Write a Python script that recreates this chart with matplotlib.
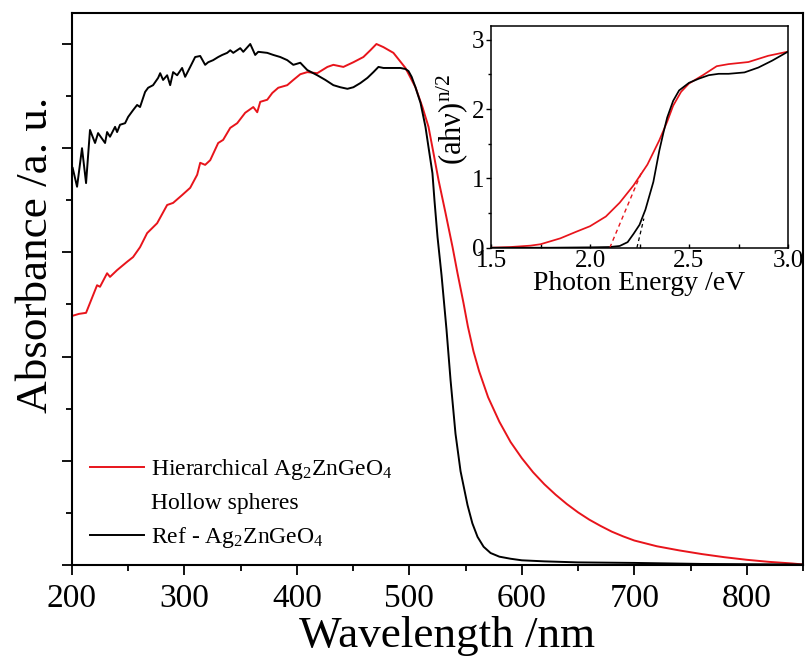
import matplotlib
matplotlib.use("Agg")
import matplotlib.pyplot as plt
from matplotlib.lines import Line2D
from matplotlib.ticker import MultipleLocator

plt.rcParams['font.family'] = ['Liberation Serif', 'DejaVu Serif']
plt.rcParams['mathtext.fontset'] = 'custom'
plt.rcParams['mathtext.rm'] = 'Liberation Serif'
plt.rcParams['mathtext.it'] = 'Liberation Serif:italic'
plt.rcParams['mathtext.bf'] = 'Liberation Serif:bold'

RED = '#e8141b'

# ---- main spectra ----
hier_wl = [200.0, 206.2, 212.5, 222.3, 224.9, 231.2, 233.8, 240.1, 249.0, 254.3, 260.5, 266.8,
           275.7, 284.6, 289.9, 297.9, 305.1, 311.3, 314.0, 318.4, 322.9, 330.0, 334.4, 340.7,
           346.9, 354.0, 361.2, 364.7, 367.4, 373.6, 378.1, 383.4, 391.4, 396.8, 403.0, 409.2,
           418.1, 427.1, 432.4, 441.3, 450.2, 459.1, 465.3, 470.7, 476.9, 485.8, 496.5, 505.4,
           511.6, 517.0, 521.4, 525.9, 532.1, 538.4, 542.8, 548.1, 552.0, 557.0, 562.0, 570.0,
           580.0, 590.0, 600.0, 610.0, 620.0, 630.0, 640.0, 650.0, 660.0, 670.0, 680.0, 690.0,
           700.0, 720.0, 740.0, 760.0, 780.0, 800.0, 820.0, 840.0, 850.0]
hier_abs = [0.478, 0.482, 0.484, 0.537, 0.534, 0.560, 0.553, 0.566, 0.582, 0.591, 0.610, 0.637,
            0.656, 0.691, 0.695, 0.710, 0.724, 0.749, 0.772, 0.768, 0.777, 0.810, 0.816, 0.839,
            0.848, 0.868, 0.879, 0.869, 0.889, 0.893, 0.906, 0.916, 0.921, 0.931, 0.942, 0.946,
            0.944, 0.956, 0.960, 0.956, 0.965, 0.975, 0.988, 1.000, 0.994, 0.983, 0.954, 0.917,
            0.879, 0.841, 0.791, 0.739, 0.676, 0.610, 0.560, 0.503, 0.458, 0.410, 0.372, 0.322,
            0.275, 0.236, 0.205, 0.178, 0.155, 0.135, 0.117, 0.101, 0.087, 0.075, 0.064, 0.055,
            0.047, 0.036, 0.028, 0.021, 0.015, 0.010, 0.006, 0.003, 0.001]

ref_wl = [200.6, 204.5, 208.9, 212.5, 216.0, 220.5, 223.2, 229.4, 231.2, 233.8, 238.3, 240.1,
          242.7, 247.2, 249.9, 254.3, 257.9, 260.5, 265.0, 267.7, 272.1, 276.6, 278.4, 281.0,
          284.6, 287.3, 289.9, 293.5, 297.9, 300.6, 305.1, 309.5, 314.0, 318.4, 321.1, 325.5,
          330.0, 333.6, 338.0, 340.7, 343.4, 349.6, 352.3, 358.5, 362.9, 365.6, 373.6, 379.0,
          385.2, 391.4, 396.8, 403.0, 409.2, 418.1, 425.3, 432.4, 438.6, 444.9, 450.2, 456.4,
          462.7, 468.0, 472.5, 476.9, 483.1, 492.0, 496.5, 499.2, 502.0, 505.4, 509.9, 514.3,
          517.0, 520.5, 522.3, 525.0, 528.6, 533.0, 536.6, 541.0, 545.5, 551.7, 556.0, 560.6,
          566.0, 572.2, 580.0, 590.0, 600.0, 620.0, 650.0, 700.0, 760.0, 850.0]
ref_abs = [0.762, 0.726, 0.800, 0.733, 0.835, 0.810, 0.829, 0.810, 0.831, 0.822, 0.841, 0.831,
           0.845, 0.848, 0.860, 0.873, 0.883, 0.879, 0.908, 0.916, 0.921, 0.935, 0.944, 0.931,
           0.940, 0.921, 0.946, 0.940, 0.954, 0.937, 0.956, 0.975, 0.977, 0.960, 0.965, 0.969,
           0.975, 0.979, 0.983, 0.988, 0.983, 0.992, 0.985, 1.000, 0.979, 0.985, 0.983, 0.979,
           0.975, 0.969, 0.960, 0.964, 0.950, 0.940, 0.931, 0.921, 0.917, 0.914, 0.917, 0.925,
           0.935, 0.946, 0.956, 0.954, 0.954, 0.954, 0.952, 0.948, 0.937, 0.917, 0.887, 0.841,
           0.802, 0.752, 0.700, 0.630, 0.556, 0.452, 0.355, 0.252, 0.180, 0.115, 0.080, 0.054,
           0.035, 0.023, 0.016, 0.012, 0.009, 0.007, 0.005, 0.004, 0.002, 0.001]

# ---- inset Tauc plot ----
hier_E = [1.50, 1.60, 1.70, 1.75, 1.85, 1.93, 2.00, 2.08, 2.15, 2.22, 2.29, 2.35, 2.39, 2.42,
          2.46, 2.50, 2.57, 2.64, 2.70, 2.80, 2.90, 3.00]
hier_tauc = [0.0, 0.01, 0.03, 0.05, 0.135, 0.23, 0.31, 0.45, 0.65, 0.90, 1.20, 1.55, 1.82, 2.05,
             2.25, 2.37, 2.49, 2.62, 2.65, 2.68, 2.77, 2.83]
ref_E = [1.50, 1.80, 2.00, 2.10, 2.15, 2.19, 2.22, 2.25, 2.28, 2.30, 2.32, 2.35, 2.37, 2.39,
         2.42, 2.45, 2.50, 2.55, 2.60, 2.65, 2.70, 2.78, 2.85, 2.92, 3.00]
ref_tauc = [0.0, 0.0, 0.005, 0.01, 0.025, 0.08, 0.20, 0.33, 0.55, 0.75, 0.95, 1.40, 1.65, 1.88,
            2.12, 2.27, 2.38, 2.44, 2.49, 2.51, 2.51, 2.53, 2.60, 2.70, 2.83]
hier_fit_E = [2.10, 2.265]
hier_fit_v = [0.0, 1.12]
ref_fit_E = [2.237, 2.272]
ref_fit_v = [0.0, 0.42]

x_ticks = [200, 300, 400, 500, 600, 700, 800]
inset_x_ticks = [1.5, 2.0, 2.5, 3.0]
inset_y_ticks = [0, 1, 2, 3]

fig = plt.figure(figsize=(8.06, 6.59), dpi=100)
ax = fig.add_axes([72 / 806, 1 - 565 / 659, 731 / 806, 552 / 659])

ax.plot(hier_wl, hier_abs, color=RED, lw=1.4)
ax.plot(ref_wl, ref_abs, color='black', lw=1.4)
ax.set_xlim(200, 850)
ax.set_ylim(0, 1.0595)
ax.set_xticks(x_ticks)
ax.xaxis.set_minor_locator(MultipleLocator(50))
ax.yaxis.set_major_locator(MultipleLocator(0.2))
ax.yaxis.set_minor_locator(MultipleLocator(0.1))
ax.set_yticklabels([])
ax.tick_params(which='major', direction='out', length=7.5, width=1.3, labelsize=24, pad=6,
               top=False, right=False)
ax.tick_params(which='minor', direction='out', length=4, width=1.3, top=False, right=False)
for s in ax.spines.values():
    s.set_linewidth(1.5)
ax.set_xlabel('Wavelength /nm', fontsize=32.5)
ax.xaxis.set_label_coords(0.513, -0.092)
ax.set_ylabel('Absorbance /a. u.', fontsize=32.5)
ax.yaxis.set_label_coords(-0.022, 0.562)

handles = [Line2D([], [], color=RED, lw=1.4),
           Line2D([], [], color='none'),
           Line2D([], [], color='black', lw=1.4)]
labels = ['Hierarchical Ag$_2$ZnGeO$_4$', 'Hollow spheres', 'Ref - Ag$_2$ZnGeO$_4$']
ax.legend(handles, labels, loc='lower left', bbox_to_anchor=(0.024, 0.027), frameon=False,
          fontsize=17, handlelength=2.3, handletextpad=0.3, labelspacing=0.46,
          borderpad=0, borderaxespad=0)

# inset
ins = fig.add_axes([491 / 806, 1 - 247.7 / 659, 297 / 806, 221.7 / 659])
ins.plot(hier_E, hier_tauc, color=RED, lw=1.25)
ins.plot(ref_E, ref_tauc, color='black', lw=1.25)
ins.plot(hier_fit_E, hier_fit_v, color=RED, lw=1.0, ls=(0, (3, 2.5)))
ins.plot(ref_fit_E, ref_fit_v, color='black', lw=0.9, ls=(0, (3, 2.5)))
ins.set_xlim(1.5, 3.0)
ins.set_ylim(0, 3.2)
ins.set_xticks(inset_x_ticks)
ins.set_xticklabels(['1.5', '2.0', '2.5', '3.0'])
ins.set_yticks(inset_y_ticks)
ins.xaxis.set_minor_locator(MultipleLocator(0.25))
ins.yaxis.set_minor_locator(MultipleLocator(0.5))
ins.tick_params(axis='x', which='both', direction='in', length=3, width=1.0, labelsize=18, pad=2,
                top=False)
ins.tick_params(axis='y', which='major', direction='out', length=3.5, width=1.0, labelsize=18,
                pad=1.5, right=False)
ins.tick_params(axis='y', which='minor', direction='out', length=2, width=1.0, right=False)
for s in ins.spines.values():
    s.set_linewidth(1.1)
ins.set_xlabel('Photon Energy /eV', fontsize=20, labelpad=-1)
ins.set_ylabel('(ahν)$^{\\mathrm{n/2}}$', fontsize=22)
ins.yaxis.set_label_coords(-0.072, 0.58)

fig.savefig('out.png', dpi=100)
